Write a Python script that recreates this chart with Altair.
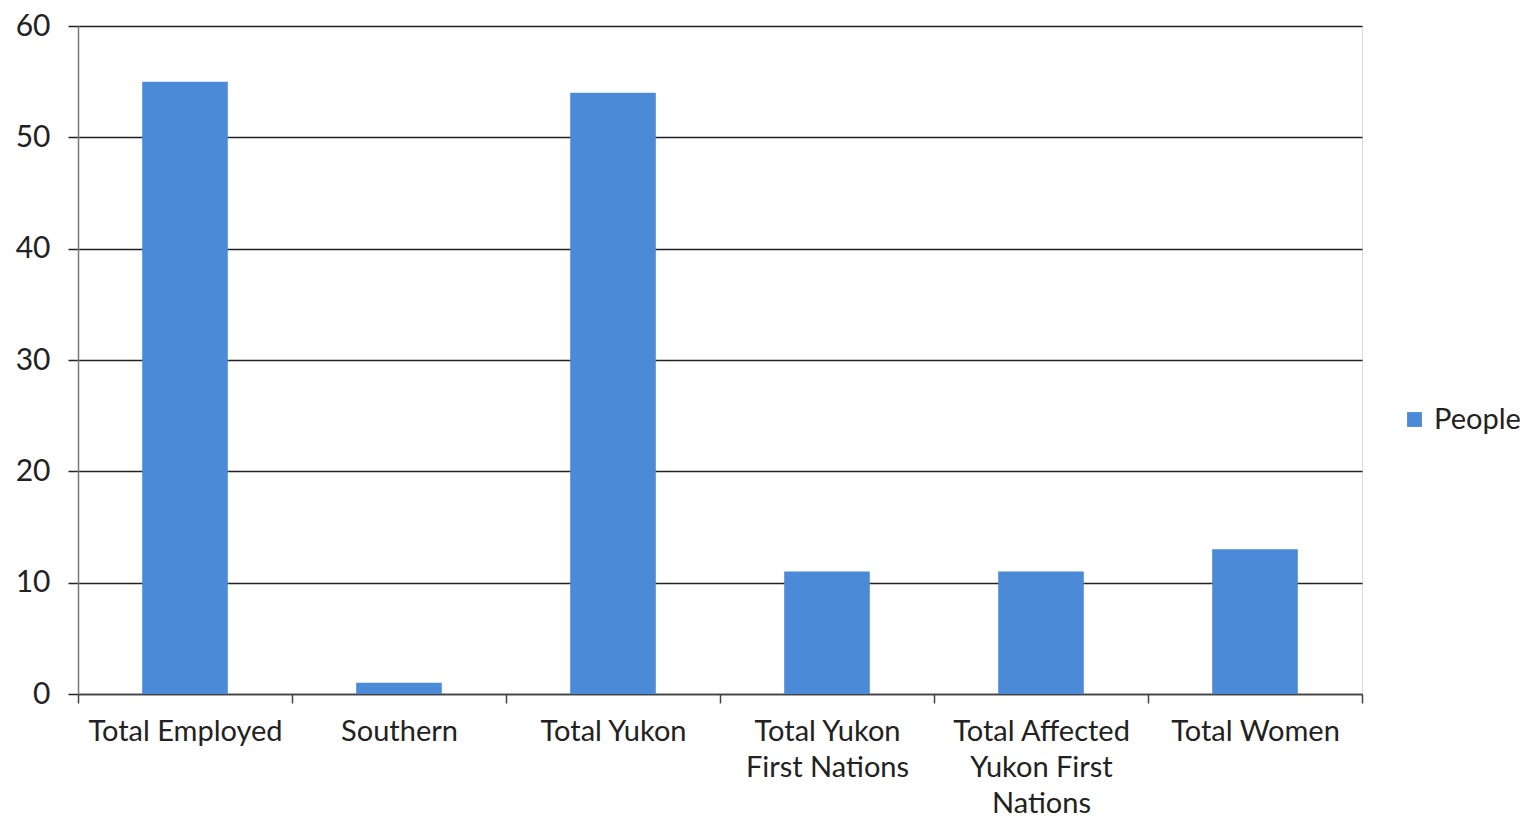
import altair as alt
import pandas as pd

categories = [
    "Total Employed",
    "Southern",
    "Total Yukon",
    "Total Yukon\nFirst Nations",
    "Total Affected\nYukon First\nNations",
    "Total Women",
]
values = [55, 1, 54, 11, 11, 13]
series = "People"
y_ticks = [0, 10, 20, 30, 40, 50, 60]

df = pd.DataFrame({"category": categories, "value": values, "series": [series] * len(categories)})

FONT = "Lato"
BLUE = "#4a8ad6"

chart = (
    alt.Chart(df)
    .mark_bar(color=BLUE, width=alt.RelativeBandSize(0.4))
    .encode(
        x=alt.X(
            "category:N",
            sort=categories,
            title=None,
            scale=alt.Scale(paddingInner=0, paddingOuter=0),
            axis=alt.Axis(
                labelAngle=0,
                labelExpr="split(datum.label, '\\n')",
                labelFont=FONT,
                labelFontSize=29,
                labelColor="#222222",
                labelLineHeight=36,
                labelPadding=14,
                labelBaseline="top",
                labelLimit=0,
                tickBand="extent",
                tickSize=9,
                tickColor="#444444",
                tickWidth=1.5,
                domainColor="#444444",
                domainWidth=1.5,
                grid=False,
            ),
        ),
        y=alt.Y(
            "value:Q",
            title=None,
            scale=alt.Scale(domain=[0, 60], nice=False),
            axis=alt.Axis(
                values=y_ticks,
                labelFont=FONT,
                labelFontSize=30,
                labelColor="#222222",
                labelPadding=18,
                tickSize=10,
                tickColor="#222222",
                tickWidth=1.5,
                gridColor="#222222",
                gridWidth=1.5,
                domainColor="#777777",
                domainWidth=1.5,
            ),
        ),
        color=alt.Color(
            "series:N",
            scale=alt.Scale(range=[BLUE]),
            legend=alt.Legend(
                title=None,
                orient="none",
                legendX=1322,
                legendY=379,
                symbolType="square",
                symbolSize=220,
                symbolStrokeWidth=0,
                labelFont=FONT,
                labelFontSize=29,
                labelColor="#222222",
                labelOffset=5,
            ),
        ),
    )
    .properties(
        width=1284,
        height=668,
        autosize=alt.AutoSizeParams(type="none"),
        padding={"left": 70, "top": 18, "right": 158, "bottom": 124},
    )
    .configure_view(stroke=None)
    .configure(background="white")
)

chart.save("out.html", embed_options={"renderer": "svg", "actions": False})
